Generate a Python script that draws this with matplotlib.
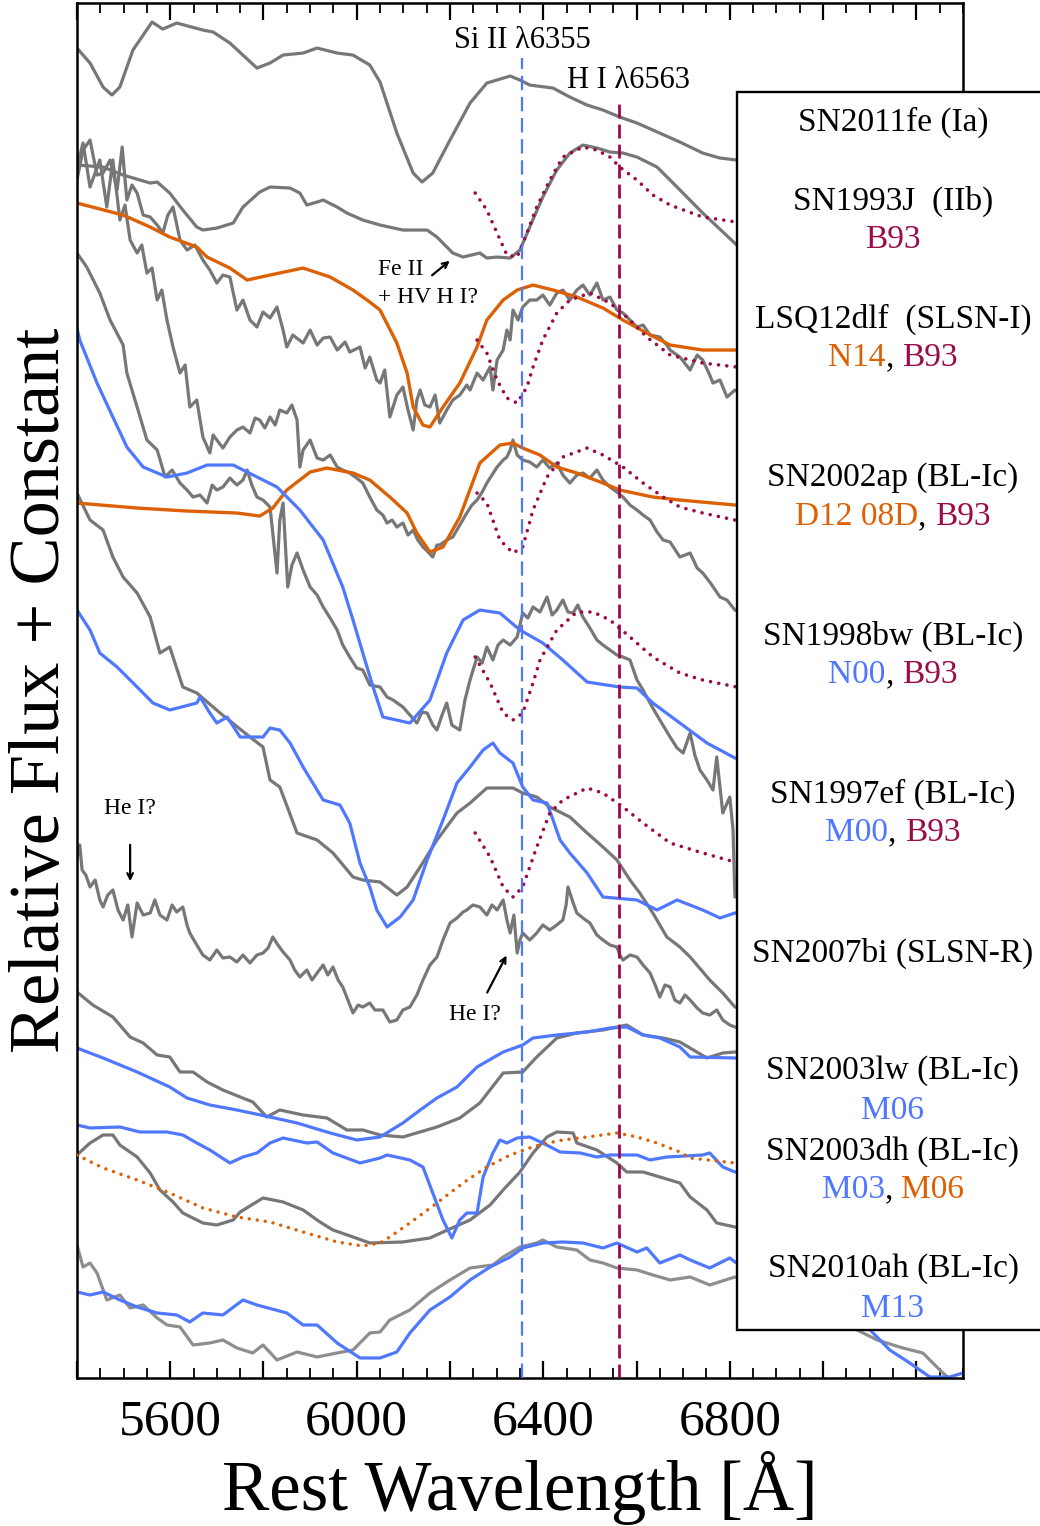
import matplotlib
matplotlib.use("Agg")
import matplotlib.pyplot as plt
from matplotlib.patches import Rectangle
from matplotlib.offsetbox import TextArea, HPacker, AnnotationBbox
from matplotlib.ticker import MultipleLocator, FuncFormatter

plt.rcParams["font.family"] = ["Liberation Serif", "DejaVu Serif"]

GRAY = "#777777"
GRAY_LIGHT = "#8e8e8e"
BLUE = "#4f78ff"
ORANGE = "#dc6105"
MAROON = "#9b0a4a"

# rest wavelengths of the marked lines
si_line = 6355
h_line = 6563
tick_labels = [5600, 6000, 6400, 6800]

# ---- SN2011fe (Ia)
fe11_wl = [5400, 5428, 5456, 5475, 5492, 5520, 5561, 5584, 5614, 5670,
           5692, 5728, 5786, 5814, 5842, 5885, 5915, 5958, 5992, 6028,
           6050, 6086, 6121, 6140, 6163, 6200, 6243, 6279, 6329, 6350,
           6371, 6421, 6457, 6494, 6528, 6564, 6601, 6635, 6693, 6742,
           6779, 6815, 6950, 7150, 7300]
fe11_flux = [13.52, 13.37, 13.13, 13.05, 13.13, 13.50, 13.78, 13.71, 13.77, 13.70,
             13.68, 13.57, 13.32, 13.37, 13.45, 13.47, 13.52, 13.47, 13.45, 13.35,
             13.18, 12.67, 12.27, 12.18, 12.27, 12.60, 12.97, 13.17, 13.24, 13.20,
             13.15, 13.12, 13.03, 12.95, 12.90, 12.83, 12.77, 12.70, 12.58, 12.47,
             12.42, 12.40, 12.32, 12.20, 12.15]

# ---- SN1993J (IIb) + B93
j93_wl = [5400, 5456, 5499, 5557, 5572, 5599, 5627, 5657, 5670, 5700,
          5735, 5756, 5792, 5814, 5857, 5878, 5893, 5915, 5928, 5958,
          5979, 6013, 6050, 6099, 6151, 6172, 6206, 6228, 6264, 6279,
          6301, 6329, 6350, 6371, 6399, 6429, 6457, 6485, 6515, 6543,
          6571, 6601, 6644, 6672, 6742, 6815, 6950, 7300]
j93_flux = [12.35, 12.33, 12.25, 12.17, 12.18, 12.07, 11.90, 11.73, 11.70, 11.72,
            11.77, 11.93, 12.08, 12.13, 12.12, 12.07, 11.95, 11.98, 12.00, 11.93,
            11.87, 11.80, 11.75, 11.70, 11.70, 11.63, 11.47, 11.43, 11.47, 11.42,
            11.43, 11.42, 11.50, 11.73, 12.03, 12.30, 12.47, 12.55, 12.52, 12.48,
            12.47, 12.43, 12.33, 12.20, 11.87, 11.55, 11.10, 10.30]
j93_b93_wl = [6254, 6279, 6301, 6322, 6344, 6365, 6386, 6414, 6442, 6485,
              6515, 6543, 6564, 6601, 6635, 6672, 6742, 6815, 7000]
j93_b93_flux = [12.07, 11.90, 11.67, 11.45, 11.43, 11.67, 11.93, 12.20, 12.43, 12.53,
                12.50, 12.43, 12.33, 12.20, 12.05, 11.95, 11.83, 11.78, 11.70]

# ---- LSQ12dlf (SLSN-I) + N14 + B93
lsq_wl = [5400, 5413, 5428, 5443, 5456, 5471, 5486, 5497, 5507, 5518,
          5529, 5542, 5557, 5572, 5584, 5595, 5606, 5621, 5636, 5653,
          5670, 5685, 5700, 5713, 5728, 5743, 5756, 5771, 5786, 5799,
          5814, 5829, 5842, 5850, 5863, 5885, 5900, 5915, 5928, 5943,
          5958, 5975, 5985, 6007, 6018, 6028, 6043, 6050, 6060, 6071,
          6086, 6099, 6110, 6121, 6129, 6136, 6146, 6157, 6168, 6178,
          6193, 6206, 6221, 6236, 6243, 6258, 6271, 6286, 6292, 6301,
          6314, 6322, 6329, 6335, 6346, 6356, 6371, 6386, 6399, 6414,
          6429, 6442, 6457, 6472, 6485, 6500, 6515, 6528, 6543, 6558,
          6571, 6586, 6601, 6614, 6629, 6650, 6665, 6672, 6693, 6715,
          6730, 6742, 6757, 6764, 6779, 6794, 6811, 6950, 7300]
lsq_flux = [12.20, 12.50, 12.60, 12.25, 12.27, 12.40, 12.10, 12.53, 12.00, 12.15,
            12.07, 11.85, 11.83, 11.75, 11.67, 11.85, 11.93, 11.60, 11.50, 11.55,
            11.40, 11.30, 11.17, 11.25, 11.23, 10.90, 11.00, 10.80, 10.73, 10.88,
            10.82, 10.93, 10.70, 10.53, 10.65, 10.57, 10.70, 10.55, 10.62, 10.63,
            10.50, 10.58, 10.48, 10.53, 10.32, 10.43, 10.20, 10.17, 10.30, 9.83,
            10.05, 10.13, 9.90, 9.70, 10.00, 10.10, 9.95, 9.93, 10.05, 9.77,
            9.90, 10.00, 10.05, 10.15, 10.10, 10.27, 10.20, 10.33, 10.10, 10.40,
            10.50, 10.70, 10.60, 10.90, 10.80, 10.93, 11.00, 11.00, 11.05, 10.95,
            11.07, 11.10, 11.00, 11.10, 11.15, 11.05, 11.17, 11.00, 11.03, 10.90,
            10.87, 10.80, 10.73, 10.75, 10.65, 10.63, 10.55, 10.50, 10.43, 10.30,
            10.45, 10.40, 10.25, 10.17, 10.20, 10.03, 10.10, 9.70, 9.20]
lsq_n14_wl = [5400, 5499, 5557, 5599, 5657, 5679, 5728, 5765, 5814, 5885,
              5943, 5992, 6028, 6050, 6086, 6108, 6121, 6142, 6157, 6185,
              6221, 6258, 6279, 6314, 6344, 6378, 6421, 6472, 6528, 6571,
              6622, 6672, 6742, 6815, 6950, 7300]
lsq_n14_flux = [11.97, 11.85, 11.73, 11.63, 11.53, 11.43, 11.32, 11.20, 11.25, 11.32,
                11.23, 11.10, 10.98, 10.90, 10.57, 10.27, 9.93, 9.75, 9.73, 9.93,
                10.17, 10.53, 10.80, 11.00, 11.10, 11.15, 11.10, 11.03, 10.92, 10.80,
                10.67, 10.55, 10.50, 10.50, 10.48, 10.45]
lsq_b93_wl = [6258, 6279, 6301, 6322, 6344, 6365, 6378, 6399, 6429, 6457,
              6500, 6543, 6579, 6622, 6672, 6742, 6815, 7000]
lsq_b93_flux = [10.60, 10.47, 10.20, 10.02, 9.97, 10.13, 10.33, 10.60, 10.87, 11.00,
                11.07, 10.97, 10.83, 10.63, 10.45, 10.37, 10.33, 10.25]

# ---- SN2002ap (BL-Ic) + D12 08D + B93
ap02_wl = [5400, 5413, 5428, 5449, 5464, 5477, 5492, 5503, 5514, 5529,
           5539, 5550, 5561, 5572, 5582, 5593, 5606, 5621, 5632, 5642,
           5657, 5670, 5685, 5692, 5700, 5713, 5728, 5743, 5756, 5771,
           5782, 5792, 5803, 5814, 5825, 5835, 5850, 5861, 5872, 5878,
           5885, 5900, 5915, 5928, 5943, 5958, 5970, 5985, 6000, 6013,
           6028, 6043, 6056, 6065, 6076, 6086, 6099, 6110, 6121, 6131,
           6142, 6153, 6163, 6172, 6178, 6193, 6206, 6221, 6236, 6247,
           6258, 6269, 6279, 6290, 6301, 6314, 6322, 6329, 6335, 6344,
           6356, 6371, 6386, 6399, 6414, 6429, 6442, 6457, 6472, 6485,
           6500, 6515, 6528, 6543, 6558, 6571, 6586, 6601, 6614, 6629,
           6644, 6657, 6672, 6693, 6715, 6730, 6742, 6757, 6779, 6794,
           6811, 6950, 7300]
ap02_flux = [12.33, 12.57, 12.13, 12.40, 11.93, 12.40, 11.80, 11.95, 11.60, 11.47,
             11.55, 11.27, 11.32, 11.00, 11.10, 10.80, 10.53, 10.27, 10.35, 9.93,
             10.00, 9.63, 9.47, 9.65, 9.60, 9.52, 9.63, 9.70, 9.73, 9.67,
             9.82, 9.80, 9.72, 9.83, 9.75, 9.90, 9.87, 9.95, 9.80, 9.33,
             9.50, 9.60, 9.42, 9.40, 9.45, 9.33, 9.30, 9.27, 9.22, 9.17,
             9.03, 8.90, 8.85, 8.77, 8.80, 8.73, 8.77, 8.65, 8.70, 8.60,
             8.53, 8.48, 8.43, 8.55, 8.55, 8.60, 8.63, 8.75, 8.87, 8.95,
             9.00, 9.08, 9.17, 9.25, 9.33, 9.40, 9.43, 9.50, 9.60, 9.45,
             9.40, 9.38, 9.33, 9.40, 9.32, 9.37, 9.25, 9.17, 9.25, 9.27,
             9.22, 9.30, 9.20, 9.13, 9.08, 9.03, 8.95, 8.90, 8.85, 8.80,
             8.68, 8.60, 8.58, 8.43, 8.47, 8.32, 8.27, 8.18, 8.03, 8.00,
             7.90, 7.60, 7.00]
ap02_d12_wl = [5400, 5529, 5636, 5743, 5792, 5820, 5850, 5900, 5936, 5992,
               6028, 6071, 6108, 6129, 6157, 6185, 6221, 6264, 6307, 6335,
               6356, 6393, 6429, 6472, 6528, 6564, 6635, 6693, 6811, 7300]
ap02_d12_flux = [8.97, 8.92, 8.89, 8.87, 8.84, 8.92, 9.10, 9.28, 9.32, 9.27,
                 9.20, 9.03, 8.87, 8.67, 8.48, 8.53, 8.83, 9.37, 9.55, 9.57,
                 9.52, 9.45, 9.33, 9.27, 9.17, 9.10, 9.03, 9.00, 8.95, 8.88]
ap02_b93_wl = [6258, 6279, 6307, 6335, 6356, 6378, 6408, 6442, 6494, 6528,
               6571, 6614, 6657, 6693, 6742, 6811, 7300]
ap02_b93_flux = [9.07, 8.97, 8.60, 8.47, 8.53, 8.90, 9.23, 9.43, 9.52, 9.45,
                 9.33, 9.17, 9.03, 8.93, 8.87, 8.80, 8.70]

# ---- SN1998bw (BL-Ic) + N00 + B93
bw98_wl = [5400, 5421, 5449, 5471, 5499, 5507, 5529, 5550, 5572, 5589,
           5604, 5621, 5636, 5649, 5664, 5679, 5690, 5700, 5713, 5728,
           5743, 5756, 5765, 5775, 5786, 5799, 5814, 5829, 5835, 5842,
           5852, 5861, 5872, 5885, 5900, 5915, 5928, 5943, 5958, 5970,
           5985, 6000, 6013, 6028, 6050, 6065, 6078, 6099, 6114, 6129,
           6140, 6151, 6163, 6172, 6183, 6193, 6204, 6221, 6232, 6243,
           6258, 6269, 6279, 6292, 6303, 6314, 6329, 6344, 6356, 6367,
           6378, 6393, 6408, 6419, 6429, 6442, 6453, 6464, 6474, 6485,
           6500, 6515, 6528, 6543, 6558, 6571, 6586, 6601, 6614, 6622,
           6635, 6650, 6672, 6687, 6700, 6715, 6725, 6736, 6751, 6764,
           6772, 6785, 6800, 6807, 6811, 6950, 7300]
bw98_flux = [11.47, 11.33, 11.07, 10.80, 10.55, 10.27, 9.93, 9.60, 9.50, 9.23,
             9.30, 9.17, 9.10, 9.03, 9.05, 8.97, 9.15, 9.10, 9.13, 9.22,
             9.15, 9.20, 9.30, 9.15, 9.03, 9.00, 8.93, 8.27, 8.80, 8.97,
             8.13, 8.35, 8.47, 8.30, 8.13, 8.05, 7.93, 7.82, 7.70, 7.55,
             7.43, 7.32, 7.30, 7.15, 7.13, 7.03, 7.00, 6.93, 6.85, 6.77,
             6.88, 6.87, 6.75, 6.70, 6.85, 6.97, 6.75, 6.70, 7.00, 7.20,
             7.43, 7.37, 7.53, 7.40, 7.55, 7.60, 7.55, 7.63, 7.87, 7.82,
             7.93, 7.88, 8.03, 7.85, 7.90, 8.00, 7.88, 7.87, 7.95, 7.83,
             7.72, 7.60, 7.55, 7.50, 7.45, 7.43, 7.40, 7.20, 7.10, 7.03,
             6.92, 6.80, 6.63, 6.52, 6.47, 6.67, 6.45, 6.30, 6.20, 6.10,
             6.43, 5.87, 6.03, 5.70, 5.03, 5.10, 4.90]
bw98_n00_wl = [5400, 5406, 5443, 5477, 5507, 5542, 5593, 5636, 5679, 5735,
               5829, 5878, 5928, 5970, 5992, 6013, 6035, 6056, 6114, 6157,
               6193, 6228, 6264, 6307, 6350, 6399, 6442, 6494, 6564, 6601,
               6635, 6693, 6751, 6811, 7300]
bw98_n00_flux = [10.72, 10.60, 10.17, 9.83, 9.53, 9.33, 9.23, 9.27, 9.35, 9.35,
                 9.13, 8.90, 8.60, 8.13, 7.80, 7.47, 7.13, 6.83, 6.77, 7.00,
                 7.47, 7.80, 7.90, 7.87, 7.70, 7.57, 7.40, 7.18, 7.13, 7.12,
                 6.97, 6.77, 6.57, 6.42, 6.00]
bw98_b93_wl = [6254, 6286, 6314, 6335, 6356, 6378, 6393, 6429, 6472, 6507,
               6543, 6586, 6635, 6693, 6742, 6815, 7300]
bw98_b93_flux = [7.43, 7.17, 6.87, 6.80, 6.87, 7.17, 7.40, 7.70, 7.88, 7.88,
                 7.80, 7.63, 7.43, 7.27, 7.20, 7.13, 7.00]

# ---- SN1997ef (BL-Ic) + M00 + B93
ef97_wl = [5400, 5428, 5456, 5477, 5499, 5529, 5557, 5578, 5599, 5627,
           5657, 5707, 5771, 5799, 5814, 5835, 5872, 5915, 5949, 5992,
           6013, 6050, 6086, 6108, 6136, 6172, 6215, 6243, 6279, 6335,
           6356, 6386, 6414, 6457, 6494, 6528, 6558, 6586, 6607, 6635,
           6665, 6693, 6715, 6757, 6785, 6811, 7300]
ef97_flux = [9.07, 8.80, 8.70, 8.43, 8.23, 8.07, 7.83, 7.47, 7.53, 7.13,
             7.07, 6.87, 6.63, 6.53, 6.20, 6.13, 5.67, 5.60, 5.47, 5.23,
             5.20, 5.18, 5.05, 5.13, 5.33, 5.60, 5.87, 5.97, 6.12, 6.12,
             6.07, 6.03, 5.93, 5.83, 5.67, 5.53, 5.40, 5.20, 5.07, 4.87,
             4.63, 4.53, 4.43, 4.20, 4.07, 3.93, 3.40]
ef97_m00_wl = [5400, 5428, 5449, 5486, 5514, 5529, 5563, 5599, 5657, 5664,
               5685, 5700, 5722, 5750, 5799, 5814, 5835, 5857, 5885, 5928,
               5964, 5985, 6007, 6028, 6043, 6065, 6093, 6121, 6151, 6185,
               6215, 6243, 6271, 6292, 6307, 6335, 6356, 6378, 6408, 6421,
               6436, 6457, 6494, 6528, 6601, 6644, 6687, 6742, 6779, 6811,
               7300]
ef97_m00_flux = [7.90, 7.70, 7.47, 7.33, 7.20, 7.13, 6.97, 6.90, 6.97, 7.03,
                 6.87, 6.77, 6.83, 6.63, 6.63, 6.72, 6.70, 6.57, 6.33, 6.00,
                 5.95, 5.77, 5.37, 5.13, 4.90, 4.73, 4.83, 5.00, 5.40, 5.80,
                 6.17, 6.33, 6.50, 6.57, 6.47, 6.37, 6.13, 6.00, 5.97, 5.80,
                 5.60, 5.47, 5.27, 5.03, 5.00, 4.90, 5.00, 4.90, 4.82, 4.87,
                 4.80]
ef97_b93_wl = [6254, 6286, 6314, 6335, 6356, 6386, 6414, 6442, 6494, 6528,
               6571, 6614, 6672, 6742, 6811, 7300]
ef97_b93_flux = [5.67, 5.43, 5.13, 5.03, 5.13, 5.53, 5.87, 6.00, 6.12, 6.07,
                 5.93, 5.77, 5.57, 5.47, 5.38, 5.25]

# ---- SN2007bi (SLSN-R)
bi07_wl = [5400, 5406, 5411, 5419, 5428, 5439, 5449, 5456, 5466, 5477,
           5488, 5499, 5509, 5518, 5529, 5542, 5557, 5567, 5578, 5593,
           5604, 5614, 5627, 5636, 5642, 5657, 5670, 5685, 5700, 5713,
           5728, 5743, 5756, 5771, 5786, 5799, 5810, 5820, 5831, 5842,
           5857, 5867, 5878, 5893, 5904, 5915, 5928, 5938, 5949, 5960,
           5970, 5981, 5992, 6003, 6013, 6028, 6039, 6056, 6071, 6086,
           6099, 6114, 6129, 6142, 6157, 6172, 6185, 6200, 6215, 6228,
           6236, 6249, 6264, 6279, 6290, 6301, 6314, 6322, 6329, 6337,
           6344, 6350, 6356, 6371, 6386, 6399, 6414, 6429, 6442, 6449,
           6453, 6462, 6472, 6485, 6500, 6515, 6528, 6543, 6558, 6564,
           6571, 6586, 6601, 6614, 6629, 6640, 6650, 6661, 6672, 6682,
           6693, 6704, 6715, 6730, 6742, 6757, 6772, 6785, 6800, 6811,
           7300]
bi07_flux = [5.43, 5.55, 5.30, 5.25, 5.13, 5.20, 5.00, 4.93, 5.05, 5.10,
             4.90, 4.80, 4.95, 4.63, 4.97, 4.85, 4.87, 5.00, 4.85, 4.80,
             4.95, 4.88, 4.93, 4.75, 4.67, 4.55, 4.45, 4.40, 4.50, 4.42,
             4.43, 4.38, 4.45, 4.37, 4.45, 4.47, 4.52, 4.63, 4.55, 4.48,
             4.40, 4.30, 4.23, 4.30, 4.20, 4.27, 4.35, 4.25, 4.33, 4.20,
             4.13, 4.00, 3.87, 3.95, 3.93, 3.97, 3.90, 3.90, 3.78, 3.80,
             3.90, 3.93, 4.05, 4.20, 4.35, 4.43, 4.60, 4.77, 4.82, 4.88,
             4.90, 4.95, 4.93, 4.85, 4.95, 4.90, 5.00, 4.80, 4.67, 4.85,
             4.47, 4.60, 4.67, 4.60, 4.67, 4.75, 4.70, 4.75, 4.80, 4.95,
             5.13, 5.00, 4.87, 4.82, 4.77, 4.65, 4.60, 4.55, 4.53, 4.45,
             4.40, 4.45, 4.43, 4.35, 4.27, 4.15, 4.03, 4.15, 4.13, 4.00,
             3.97, 4.05, 4.00, 3.92, 3.87, 3.85, 3.90, 3.80, 3.75, 3.73,
             3.30]

# ---- SN2003lw (BL-Ic) + M06
lw03_wl = [5400, 5434, 5477, 5514, 5542, 5572, 5599, 5621, 5649, 5679,
           5713, 5750, 5777, 5807, 5835, 5885, 5936, 5979, 6013, 6050,
           6099, 6172, 6221, 6264, 6314, 6356, 6386, 6429, 6472, 6528,
           6579, 6614, 6657, 6693, 6751, 6785, 6811, 7300]
lw03_flux = [4.08, 3.95, 3.83, 3.63, 3.57, 3.45, 3.43, 3.28, 3.28, 3.18,
             3.10, 3.03, 2.98, 2.83, 2.90, 2.85, 2.82, 2.70, 2.70, 2.65,
             2.63, 2.73, 2.82, 2.97, 3.27, 3.28, 3.43, 3.62, 3.67, 3.70,
             3.75, 3.65, 3.62, 3.58, 3.42, 3.47, 3.48, 3.20]
lw03_m06_wl = [5400, 5456, 5529, 5599, 5636, 5685, 5743, 5814, 5872, 5943,
               6000, 6050, 6099, 6136, 6172, 6215, 6258, 6314, 6356, 6378,
               6429, 6494, 6543, 6579, 6614, 6650, 6693, 6715, 6811, 7300]
lw03_m06_flux = [3.52, 3.42, 3.28, 3.13, 3.02, 2.95, 2.90, 2.83, 2.77, 2.67,
                 2.60, 2.63, 2.77, 2.90, 3.02, 3.13, 3.33, 3.48, 3.55, 3.62,
                 3.65, 3.68, 3.72, 3.73, 3.65, 3.62, 3.53, 3.43, 3.42, 3.25]

# ---- SN2003dh (BL-Ic) + M03 + M06
dh03_wl = [5400, 5428, 5456, 5477, 5492, 5529, 5557, 5578, 5606, 5627,
           5670, 5700, 5735, 5750, 5799, 5842, 5885, 5921, 5949, 5992,
           6028, 6099, 6157, 6185, 6243, 6286, 6314, 6350, 6378, 6408,
           6429, 6464, 6472, 6515, 6558, 6579, 6614, 6650, 6693, 6715,
           6751, 6772, 6811, 7300]
dh03_flux = [2.45, 2.57, 2.65, 2.65, 2.55, 2.43, 2.27, 2.10, 1.98, 1.87,
             1.77, 1.75, 1.80, 1.88, 2.02, 1.98, 1.90, 1.78, 1.70, 1.63,
             1.57, 1.58, 1.62, 1.68, 1.80, 1.95, 2.10, 2.28, 2.47, 2.63,
             2.68, 2.67, 2.57, 2.50, 2.37, 2.28, 2.28, 2.23, 2.17, 2.03,
             1.90, 1.77, 1.73, 1.50]
dh03_m03_wl = [5400, 5428, 5492, 5535, 5593, 5627, 5657, 5685, 5728, 5756,
               5786, 5814, 5842, 5893, 5915, 5949, 6007, 6050, 6065, 6114,
               6142, 6163, 6185, 6204, 6221, 6236, 6258, 6271, 6292, 6307,
               6322, 6344, 6371, 6399, 6436, 6479, 6515, 6543, 6601, 6629,
               6665, 6742, 6757, 6785, 6811, 7300]
dh03_m03_flux = [2.75, 2.72, 2.73, 2.68, 2.68, 2.65, 2.57, 2.50, 2.37, 2.43,
                 2.47, 2.57, 2.62, 2.57, 2.58, 2.47, 2.37, 2.42, 2.45, 2.40,
                 2.33, 2.07, 1.80, 1.62, 1.80, 1.87, 1.87, 2.23, 2.47, 2.60,
                 2.57, 2.62, 2.63, 2.57, 2.48, 2.47, 2.43, 2.45, 2.45, 2.40,
                 2.43, 2.45, 2.47, 2.33, 2.28, 2.10]
dh03_m06_wl = [5400, 5456, 5529, 5599, 5670, 5743, 5814, 5885, 5958, 6013,
               6050, 6071, 6114, 6172, 6228, 6279, 6329, 6371, 6399, 6442,
               6494, 6558, 6601, 6644, 6693, 6715, 6811, 7300]
dh03_m06_flux = [2.45, 2.32, 2.20, 2.07, 1.92, 1.83, 1.78, 1.68, 1.58, 1.54,
                 1.57, 1.63, 1.77, 1.97, 2.17, 2.33, 2.45, 2.52, 2.56, 2.60,
                 2.63, 2.67, 2.63, 2.57, 2.48, 2.42, 2.37, 2.30]

# ---- SN2010ah (BL-Ic) + M13
ah10_wl = [5400, 5413, 5428, 5443, 5464, 5492, 5514, 5542, 5572, 5593,
           5621, 5649, 5685, 5713, 5743, 5777, 5799, 5829, 5872, 5915,
           5958, 5992, 6028, 6050, 6071, 6114, 6157, 6200, 6243, 6292,
           6314, 6350, 6386, 6399, 6429, 6472, 6500, 6528, 6558, 6601,
           6635, 6672, 6715, 6757, 6811, 6950, 7073, 7116, 7171, 7214,
           7257, 7300]
ah10_flux = [1.55, 1.33, 1.37, 1.27, 1.00, 1.05, 0.92, 0.95, 0.82, 0.75,
             0.73, 0.55, 0.57, 0.60, 0.52, 0.47, 0.55, 0.40, 0.48, 0.43,
             0.47, 0.50, 0.67, 0.68, 0.80, 0.90, 1.07, 1.20, 1.32, 1.35,
             1.43, 1.53, 1.57, 1.60, 1.53, 1.50, 1.40, 1.37, 1.32, 1.30,
             1.25, 1.20, 1.23, 1.15, 1.23, 1.00, 0.70, 0.60, 0.52, 0.47,
             0.27, 0.10]
ah10_m13_wl = [5400, 5428, 5456, 5492, 5529, 5572, 5614, 5642, 5670, 5713,
               5756, 5786, 5850, 5885, 5915, 5958, 6007, 6050, 6086, 6114,
               6157, 6200, 6243, 6286, 6329, 6356, 6399, 6442, 6485, 6528,
               6558, 6601, 6622, 6650, 6693, 6715, 6757, 6800, 6811, 6950,
               7101, 7143, 7186, 7229, 7272, 7300]
ah10_m13_flux = [1.08, 1.05, 1.08, 1.00, 0.93, 0.87, 0.85, 0.78, 0.87, 0.85,
                 1.00, 0.95, 0.87, 0.75, 0.75, 0.57, 0.42, 0.42, 0.48, 0.67,
                 0.90, 1.03, 1.20, 1.33, 1.43, 1.52, 1.57, 1.58, 1.57, 1.52,
                 1.57, 1.48, 1.52, 1.37, 1.45, 1.40, 1.32, 1.42, 1.38, 1.10,
                 0.70, 0.50, 0.37, 0.23, 0.23, 0.27]


fig = plt.figure(figsize=(10.4, 15.26), dpi=100)
ax = fig.add_axes([0.0740, 0.0970, 0.8519, 0.9010])


def solid(wl, flux, color=GRAY, lw=2.3):
    ax.plot(wl, flux, color=color, lw=lw, solid_joinstyle="round", zorder=2)


def dotted(wl, flux, color=MAROON, lw=2.6):
    ax.plot(wl, flux, color=color, lw=lw, linestyle=(0, (0.01, 2.3)),
            dash_capstyle="round", zorder=3)


# observed spectra
solid(fe11_wl, fe11_flux)
solid(j93_wl, j93_flux)
solid(lsq_wl, lsq_flux)
solid(ap02_wl, ap02_flux)
solid(bw98_wl, bw98_flux)
solid(ef97_wl, ef97_flux)
solid(bi07_wl, bi07_flux)
solid(lw03_wl, lw03_flux)
solid(dh03_wl, dh03_flux)
solid(ah10_wl, ah10_flux, color=GRAY_LIGHT)

# comparison spectra
solid(lsq_n14_wl, lsq_n14_flux, color=ORANGE, lw=2.4)
solid(ap02_d12_wl, ap02_d12_flux, color=ORANGE, lw=2.4)
solid(bw98_n00_wl, bw98_n00_flux, color=BLUE)
solid(ef97_m00_wl, ef97_m00_flux, color=BLUE)
solid(lw03_m06_wl, lw03_m06_flux, color=BLUE)
solid(dh03_m03_wl, dh03_m03_flux, color=BLUE)
solid(ah10_m13_wl, ah10_m13_flux, color=BLUE)
dotted(j93_b93_wl, j93_b93_flux)
dotted(lsq_b93_wl, lsq_b93_flux)
dotted(ap02_b93_wl, ap02_b93_flux)
dotted(bw98_b93_wl, bw98_b93_flux)
dotted(ef97_b93_wl, ef97_b93_flux)
dotted(dh03_m06_wl, dh03_m06_flux, color=ORANGE, lw=2.5)

ax.set_xlim(5400, 7300)
ax.set_ylim(0.22, 13.97)

# rest wavelengths of Si II and H-alpha
ax.axvline(si_line, ymax=0.96, color=BLUE, lw=1.6, dashes=(6.5, 3), zorder=4)
ax.axvline(h_line, ymax=0.929, color=MAROON, lw=2.0, dashes=(5, 2.2), zorder=4)
ax.text(si_line, 13.60, "Si II λ6355", fontsize=22, ha="center", va="center")
ax.text(6582, 13.20, "H I λ6563", fontsize=22, ha="center", va="center")

# line identifications
ax.annotate("", xy=(6204, 11.41), xytext=(6157, 11.23),
            arrowprops=dict(arrowstyle="->", lw=1.6, color="black"))
ax.text(6045, 11.31, "Fe II", fontsize=17, ha="left", va="center")
ax.text(6045, 11.03, "+ HV H I?", fontsize=17, ha="left", va="center")
ax.text(5514, 5.92, "He I?", fontsize=17, ha="center", va="center")
ax.annotate("", xy=(5514, 5.16), xytext=(5514, 5.58),
            arrowprops=dict(arrowstyle="->", lw=1.6, color="black"))
ax.text(6254, 3.85, "He I?", fontsize=17, ha="center", va="center")
ax.annotate("", xy=(6324, 4.47), xytext=(6277, 4.05),
            arrowprops=dict(arrowstyle="->", lw=1.6, color="black"))

# axes styling
ax.set_yticks([])
ax.xaxis.set_major_locator(MultipleLocator(200))
ax.xaxis.set_minor_locator(MultipleLocator(50))
ax.xaxis.set_major_formatter(FuncFormatter(
    lambda v, p: f"{v:.0f}" if int(round(v)) in tick_labels else ""))
ax.tick_params(axis="x", which="both", direction="in", top=True, bottom=True,
               labelsize=37, pad=15)
ax.tick_params(axis="x", which="major", length=12, width=1.6)
ax.tick_params(axis="x", which="minor", length=7, width=1.3)
for side in ax.spines.values():
    side.set_linewidth(1.8)

ax.set_xlabel("Rest Wavelength [Å]", fontsize=51, va="center")
ax.xaxis.set_label_coords(0.5, -0.080)
ax.set_ylabel("Relative Flux + Constant", fontsize=52, va="center")
ax.yaxis.set_label_coords(-0.040, 0.5)

# legend panel on the right
W, H = 1040.0, 1526.0
box = Rectangle((737 / W, 1 - 1330 / H), 0.32, (1330 - 92) / H,
                transform=fig.transFigure, facecolor="white",
                edgecolor="black", lw=1.7, zorder=10)
fig.add_artist(box)

legend_x = 893 / W
names = [
    ("SN2011fe (Ia)", 122),
    ("SN1993J  (IIb)", 201),
    ("LSQ12dlf  (SLSN-I)", 319),
    ("SN2002ap (BL-Ic)", 478),
    ("SN1998bw (BL-Ic)", 636),
    ("SN1997ef (BL-Ic)", 794),
    ("SN2007bi (SLSN-R)", 953),
    ("SN2003lw (BL-Ic)", 1071),
    ("SN2003dh (BL-Ic)", 1151),
    ("SN2010ah (BL-Ic)", 1269),
]
refs = [
    ([("B93", MAROON)], 240),
    ([("N14", ORANGE), (", ", "black"), ("B93", MAROON)], 358),
    ([("D12 08D", ORANGE), (", ", "black"), ("B93", MAROON)], 517),
    ([("N00", BLUE), (", ", "black"), ("B93", MAROON)], 675),
    ([("M00", BLUE), (", ", "black"), ("B93", MAROON)], 833),
    ([("M06", BLUE)], 1111),
    ([("M03", BLUE), (", ", "black"), ("M06", ORANGE)], 1190),
    ([("M13", BLUE)], 1309),
]

for name, py in names:
    fig.text(legend_x, 1 - py / H, name, fontsize=24, ha="center",
             va="center", zorder=11)

for pieces, py in refs:
    parts = [TextArea(t, textprops=dict(color=c, fontsize=24)) for t, c in pieces]
    pack = HPacker(children=parts, align="baseline", pad=0, sep=0)
    ab = AnnotationBbox(pack, (legend_x, 1 - py / H), xycoords="figure fraction",
                        frameon=False, box_alignment=(0.5, 0.5), zorder=11)
    fig.add_artist(ab)

fig.savefig("out.png", dpi=100)
